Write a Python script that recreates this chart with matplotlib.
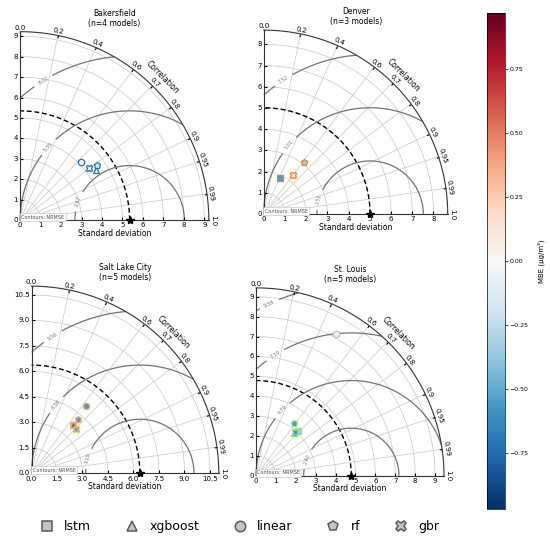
import numpy as np
import matplotlib
matplotlib.use("Agg")
import matplotlib.pyplot as plt
from matplotlib.lines import Line2D
from matplotlib.colors import Normalize
from matplotlib.cm import ScalarMappable
from matplotlib.projections import PolarAxes
import mpl_toolkits.axisartist.floating_axes as FA
import mpl_toolkits.axisartist.grid_finder as GF

# ---- data ----
CITIES = ["Bakersfield", "Denver", "Salt Lake City", "St. Louis"]
REF_STD = [5.35, 5.013, 6.375, 4.79]
STD_MAX = [9.22, 8.67, 11.02, 9.45]
STD_TICKS = [list(range(10)), list(range(9)),
             [0.0, 1.5, 3.0, 4.5, 6.0, 7.5, 9.0, 10.5], list(range(10))]
STD_FMT = ["{:.0f}", "{:.0f}", "{:.1f}", "{:.0f}"]
CONTOUR_MULT = [[0.5, 1.0, 1.5], [0.5, 1.0, 1.5], [0.5, 1.0, 1.5], [0.5, 1.0, 1.5, 2.0]]
EDGE = ["#1f77b4", "#ff7f0e", "#f5b06a", "#98df8a"]
# where the contour labels sit (x, y in std units), inner to outer contour
LABEL_XY = [[(2.82, 0.92), (1.35, 3.63), (1.11, 6.85)],
            [(2.61, 0.69), (1.19, 3.26), (0.96, 6.28)],
            [(3.20, 0.91), (1.41, 4.08), (1.22, 8.11)],
            [(2.59, 0.84), (1.36, 3.25), (1.03, 5.98), (0.62, 8.74)]]

BAK_MODELS = ["xgboost", "linear", "rf", "gbr"]
BAK_STD = [4.42, 4.14, 4.64, 4.23]
BAK_CORR = [0.834, 0.722, 0.810, 0.798]
BAK_MBE = [-0.05, 0.02, -0.20, -0.03]

DEN_MODELS = ["lstm", "rf", "gbr"]
DEN_STD = [1.87, 3.10, 2.29]
DEN_CORR = [0.417, 0.613, 0.597]
DEN_MBE = [-0.55, -0.35, 0.05]

SLC_MODELS = ["lstm", "xgboost", "linear", "rf", "gbr"]
SLC_STD = [3.73, 3.79, 5.11, 4.21, 3.68]
SLC_CORR = [0.654, 0.649, 0.632, 0.651, 0.710]
SLC_MBE = [-0.45, -0.75, -0.55, -0.55, -0.50]

STL_MODELS = ["lstm", "xgboost", "linear", "rf", "gbr"]
STL_STD = [3.11, 2.85, 8.19, 3.27, 2.94]
STL_CORR = [0.686, 0.664, 0.488, 0.590, 0.663]
STL_MBE = [-0.35, -0.80, -0.05, -0.55, -0.60]

MODEL_ORDER = ["lstm", "xgboost", "linear", "rf", "gbr"]
MARKERS = {"lstm": "s", "xgboost": "^", "linear": "o", "rf": "p", "gbr": "X"}
CORR_TICKS = np.array([0, 0.2, 0.4, 0.6, 0.7, 0.8, 0.9, 0.95, 0.99, 1])
MBE_LIM = 0.97

cmap = plt.get_cmap("RdBu_r")
norm = Normalize(vmin=-MBE_LIM, vmax=MBE_LIM)


def taylor_panel(fig, rect, title, ref, smax, rticks, rfmt, mults, label_xy, edge,
                 models, stds, corrs, mbes):
    tr = PolarAxes.PolarTransform(apply_theta_transforms=False)
    tlocs = np.arccos(CORR_TICKS)
    gl1 = GF.FixedLocator(tlocs)
    tf1 = GF.DictFormatter(dict(zip(tlocs, map(str, CORR_TICKS))))
    gl2 = GF.FixedLocator(rticks)
    tf2 = GF.DictFormatter({r: rfmt.format(r) for r in rticks})
    gh = FA.GridHelperCurveLinear(tr, extremes=(0, np.pi / 2, 0, smax),
                                  grid_locator1=gl1, tick_formatter1=tf1,
                                  grid_locator2=gl2, tick_formatter2=tf2)
    ax = FA.FloatingAxes(fig, rect, grid_helper=gh)
    fig.add_axes(ax)

    ax.axis["top"].set_axis_direction("bottom")
    ax.axis["top"].toggle(ticklabels=True, label=True)
    ax.axis["top"].major_ticklabels.set_axis_direction("top")
    ax.axis["top"].label.set_axis_direction("top")
    ax.axis["top"].label.set_text("Correlation")
    ax.axis["left"].set_axis_direction("bottom")
    ax.axis["left"].label.set_text("Standard deviation")
    ax.axis["right"].set_axis_direction("top")
    ax.axis["right"].toggle(ticklabels=True)
    ax.axis["right"].major_ticklabels.set_axis_direction("left")
    ax.axis["bottom"].set_visible(False)
    for side in ["top", "left", "right"]:
        a = ax.axis[side]
        a.major_ticklabels.set_fontsize(5)
        a.major_ticklabels.set_pad(1.5)
        a.major_ticks.set_ticksize(2)
        a.major_ticks.set_linewidth(0.5)
        a.label.set_fontsize(5.5)
        a.line.set_linewidth(0.8)
        a.line.set_color("0.2")
    ax.axis["left"].label.set_pad(1)
    ax.axis["top"].label.set_pad(1)
    ax.grid(True, color="0.78", lw=0.5)
    ax.set_title(title, fontsize=5.5, pad=3, linespacing=1.15)

    aux = ax.get_aux_axes(tr)
    # reference point and its std arc
    aux.plot([0], [ref], marker="*", color="k", ls="", ms=6, zorder=10, clip_on=False)
    t = np.linspace(0, np.pi / 2, 200)
    aux.plot(t, np.full_like(t, ref), color="k", ls=(0, (3.5, 2)), lw=1.0)

    # centred RMS contours
    rs, ts = np.meshgrid(np.linspace(0, smax, 300), np.linspace(0, np.pi / 2, 300))
    rms = np.sqrt(ref ** 2 + rs ** 2 - 2 * ref * rs * np.cos(ts))
    cs = aux.contour(ts, rs, rms, [m * ref for m in mults], colors="0.45", linewidths=0.9)
    manual = [(np.arctan2(y, x), np.hypot(x, y)) for x, y in label_xy]
    aux.clabel(cs, inline=True, fontsize=3.6, fmt="%.2f", manual=manual)

    order = sorted(range(len(models)), key=lambda i: MODEL_ORDER.index(models[i]))
    for i in order:
        aux.plot(np.arccos(corrs[i]), stds[i], marker=MARKERS[models[i]], ls="",
                 ms=4.6, mfc=cmap(norm(mbes[i])), mec=edge, mew=0.9, zorder=5)

    ax.text(0.015, 0.018, "Contours: NRMSE", transform=ax.transAxes, fontsize=3.5,
            color="0.3", bbox=dict(boxstyle="square,pad=0.3", fc="white", ec="0.75", lw=0.4),
            zorder=20)
    return ax


fig = plt.figure(figsize=(5.5, 5.39), dpi=100)
W, H = 550.0, 539.0
rects = [(18.3 / W, 1 - 222.7 / H, 192.4 / W, 193.4 / H),
         (260.7 / W, 1 - 216.0 / H, 190.0 / W, 187.7 / H),
         (28.0 / W, 1 - 475.3 / H, 194.3 / W, 191.0 / H),
         (254.0 / W, 1 - 477.7 / H, 192.0 / W, 191.7 / H)]
panels = [(BAK_MODELS, BAK_STD, BAK_CORR, BAK_MBE),
          (DEN_MODELS, DEN_STD, DEN_CORR, DEN_MBE),
          (SLC_MODELS, SLC_STD, SLC_CORR, SLC_MBE),
          (STL_MODELS, STL_STD, STL_CORR, STL_MBE)]
for k, city in enumerate(CITIES):
    models, stds, corrs, mbes = panels[k]
    title = f"{city}\n(n={len(models)} models)"
    taylor_panel(fig, rects[k], title, REF_STD[k], STD_MAX[k], STD_TICKS[k], STD_FMT[k],
                 CONTOUR_MULT[k], LABEL_XY[k], EDGE[k], models, stds, corrs, mbes)

# colorbar
cax = fig.add_axes([486.7 / W, 1 - 509 / H, 18.3 / W, 496 / H])
cb = fig.colorbar(ScalarMappable(norm=norm, cmap=cmap), cax=cax)
cb.set_ticks([-0.75, -0.5, -0.25, 0, 0.25, 0.5, 0.75])
cb.ax.tick_params(labelsize=4.5, length=2, width=0.5, pad=1.5)
cb.outline.set_linewidth(0.5)
cb.set_label("MBE (\u03bcg/m\u00b3)", fontsize=5, labelpad=6)

# legend
handles = [Line2D([], [], marker=MARKERS[m], ls="", ms=7.5, mfc="#c4c4c4",
                  mec="#5a5a5a", mew=1.1) for m in MODEL_ORDER]
fig.legend(handles, MODEL_ORDER, loc="center", ncol=5, frameon=False,
           bbox_to_anchor=(240 / W, 1 - 526.7 / H), fontsize=9,
           handlelength=1.0, handletextpad=0.9, columnspacing=2.75)

fig.savefig("out.png", dpi=100)
